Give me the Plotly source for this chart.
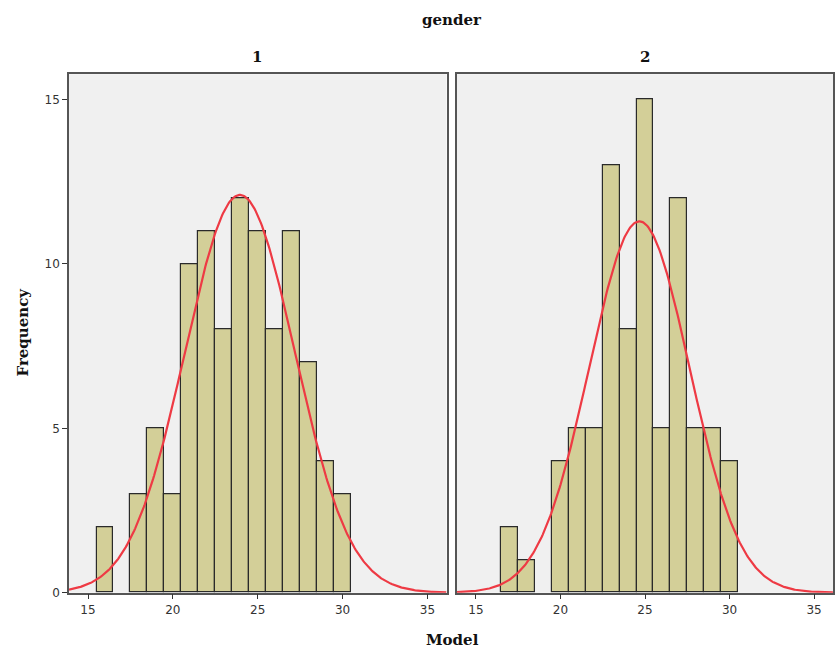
import numpy as np
import plotly.graph_objects as go

# Data (bin centres, width 1)
bins = [16, 17, 18, 19, 20, 21, 22, 23, 24, 25, 26, 27, 28, 29, 30]
counts_g1 = [2, 0, 3, 5, 3, 10, 11, 8, 12, 11, 8, 11, 7, 4, 3]
counts_g2 = [0, 2, 1, 0, 4, 5, 5, 13, 8, 15, 5, 12, 5, 5, 4]
panel_labels = ["1", "2"]
x_ticks = [15, 20, 25, 30, 35]
y_ticks = [0, 5, 10, 15]

BAR_FILL = "#D3CF98"
BAR_LINE = "#2a2a2a"
CURVE = "#EE3A44"
FRAME = "#555555"

W, H = 835, 665
def px_x(p): return p / W
def px_y(p): return 1 - p / H

fig = go.Figure()

domains = [(px_x(69), px_x(446.5)), (px_x(457), px_x(833))]
ydom = (px_y(599), px_y(75))
xr = [13.88, 36.12]

for i, counts in enumerate([counts_g1, counts_g2]):
    xa = "x" if i == 0 else "x2"
    ya = "y" if i == 0 else "y2"
    bx = [b for b, c in zip(bins, counts) if c > 0]
    by = [c for c in counts if c > 0]
    fig.add_trace(go.Bar(x=bx, y=by, width=1, xaxis=xa, yaxis=ya,
                         marker=dict(color=BAR_FILL, line=dict(color=BAR_LINE, width=1.2)),
                         showlegend=False))
    # normal curve fitted from the binned data
    c = np.array(counts, dtype=float)
    b = np.array(bins, dtype=float)
    n = c.sum()
    m = (c * b).sum() / n
    sd = np.sqrt((c * (b - m) ** 2).sum() / (n - 1))
    xs = np.linspace(xr[0], xr[1], 400)
    ys = n * 1.0 / (sd * np.sqrt(2 * np.pi)) * np.exp(-0.5 * ((xs - m) / sd) ** 2)
    fig.add_trace(go.Scatter(x=xs, y=ys, mode="lines", xaxis=xa, yaxis=ya,
                             line=dict(color=CURVE, width=2.2), showlegend=False))

axis_common = dict(showline=True, linecolor=FRAME, linewidth=1.5, mirror=True,
                   showgrid=False, zeroline=False, ticks="outside", ticklen=5,
                   tickcolor="#333333", tickwidth=1,
                   tickfont=dict(family="DejaVu Sans", size=12, color="#333333"))

fig.update_layout(
    width=W, height=H,
    margin=dict(l=0, r=0, t=0, b=0),
    paper_bgcolor="white",
    plot_bgcolor="#F0F0F0",
    bargap=0,
    xaxis=dict(domain=domains[0], range=xr, tickvals=x_ticks, anchor="y", **axis_common),
    xaxis2=dict(domain=domains[1], range=xr, tickvals=x_ticks, anchor="y2", **axis_common),
    yaxis=dict(domain=ydom, range=[0, 15.77], tickvals=y_ticks, anchor="x", **axis_common),
    yaxis2=dict(domain=ydom, range=[0, 15.77], tickvals=y_ticks, anchor="x2",
                showticklabels=False, **{k: v for k, v in axis_common.items() if k != "ticks"}, ticks=""),
)

title_font = dict(family="DejaVu Serif", size=15, color="#111111")
ann = [
    dict(text="<b>gender</b>", x=px_x(452), y=px_y(20)),
    dict(text="<b>" + panel_labels[0] + "</b>", x=px_x(257), y=px_y(58)),
    dict(text="<b>" + panel_labels[1] + "</b>", x=px_x(645), y=px_y(58)),
    dict(text="<b>Model</b>", x=px_x(452), y=px_y(647)),
    dict(text="<b>Frequency</b>", x=px_x(23), y=px_y(336), textangle=-90),
]
for a in ann:
    fig.add_annotation(xref="paper", yref="paper", showarrow=False,
                       xanchor="center", yanchor="middle", font=title_font, **a)

fig.write_html("out.html", config={"displayModeBar": False},
               post_script="document.body.style.margin='0';document.documentElement.style.overflow='hidden';document.body.style.overflow='hidden';")
